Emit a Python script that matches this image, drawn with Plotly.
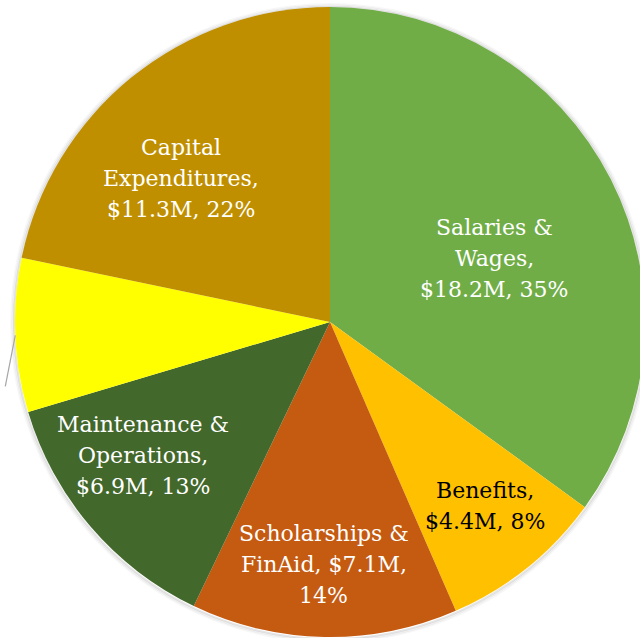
import math
import plotly.graph_objects as go

# ---- data ----
categories = ["Salaries & Wages", "Benefits", "Scholarships & FinAid",
              "Maintenance & Operations", "Other", "Capital Expenditures"]
values_musd = [18.2, 4.4, 7.1, 6.9, 4.1, 11.3]
label_lines = [
    ["Salaries &", "Wages,", "$18.2M, 35%"],
    ["Benefits,", "$4.4M, 8%"],
    ["Scholarships &", "FinAid, $7.1M,", "14%"],
    ["Maintenance &", "Operations,", "$6.9M, 13%"],
    None,
    ["Capital", "Expenditures,", "$11.3M, 22%"],
]

# ---- style ----
colors = ["#70AD47", "#FFC000", "#C55A11", "#43682B", "#FFFF00", "#BF8F00"]
text_colors = ["white", "black", "white", "white", "black", "white"]
label_r = [0.56, 0.765, 0.77, 0.73, 1.1, 0.657]        # fraction of radius
label_dang = [5.8, -1.3, 0.4, 5.0, 0.0, -7.0]          # degrees nudge
FONT = "DejaVu Serif"
FSIZE = 22
LINE_H = 31

W, H = 660, 650
ML, MR, MT, MB = 15, 15, 7, 13
PW = W - ML - MR
PH = H - MT - MB
R = min(PW, PH) / 2  # pixels

fig = go.Figure()
fig.add_trace(go.Pie(
    labels=categories, values=values_musd, sort=False, direction="clockwise",
    rotation=0, marker=dict(colors=colors, line=dict(width=0)),
    textinfo="none", showlegend=False, hole=0,
    domain=dict(x=[0, 1], y=[0, 1]),
))

def to_paper(px, py):
    return (px - ML) / PW, 1 - (py - MT) / PH

cx, cy = ML + PW / 2, MT + PH / 2
total = sum(values_musd)
cum = 0
annotations = []
shapes = []
for i, v in enumerate(values_musd):
    a0 = cum / total * 360
    cum += v
    a1 = cum / total * 360
    mid = (a0 + a1) / 2
    if label_lines[i] is None:
        # leader line toward an off-canvas label
        sx = cx + R * math.sin(math.radians(mid))
        sy = cy - R * math.cos(math.radians(mid))
        x0, y0 = to_paper(sx, sy)
        x1, y1 = to_paper(sx - 10, sy + 51)
        shapes.append(dict(type="line", xref="paper", yref="paper",
                           x0=x0, y0=y0, x1=x1, y1=y1,
                           line=dict(color="#A6A6A6", width=1.2)))
        continue
    ang = math.radians(mid + label_dang[i])
    px = cx + label_r[i] * R * math.sin(ang)
    py = cy - label_r[i] * R * math.cos(ang)
    xp, yp = to_paper(px, py)
    n = len(label_lines[i])
    for j, line in enumerate(label_lines[i]):
        annotations.append(dict(
            x=xp, y=yp, xref="paper", yref="paper", text=line, showarrow=False,
            xanchor="center", yanchor="middle",
            yshift=-(j - (n - 1) / 2) * LINE_H,
            font=dict(family=FONT, size=FSIZE, color=text_colors[i]),
        ))

# soft shadow around the pie
for k, op in enumerate([0.10, 0.06, 0.03]):
    rr = R + 1 + k * 1.5
    x0, y0 = to_paper(cx - rr, cy - rr + 1)
    x1, y1 = to_paper(cx + rr, cy + rr + 1)
    shapes.append(dict(type="circle", xref="paper", yref="paper", layer="below",
                       x0=x0, y0=y1, x1=x1, y1=y0,
                       line=dict(color="rgba(0,0,0,%.2f)" % op, width=2),
                       fillcolor="rgba(0,0,0,0)"))

fig.update_layout(
    width=W, height=H, autosize=False,
    margin=dict(l=ML, r=MR, t=MT, b=MB, pad=0),
    paper_bgcolor="white", plot_bgcolor="white",
    annotations=annotations, shapes=shapes,
)

fig.write_html(
    "out.html",
    config={"displayModeBar": False},
    post_script="document.body.style.margin='0';document.body.style.overflow='hidden';"
                "document.documentElement.style.overflow='hidden';",
)
